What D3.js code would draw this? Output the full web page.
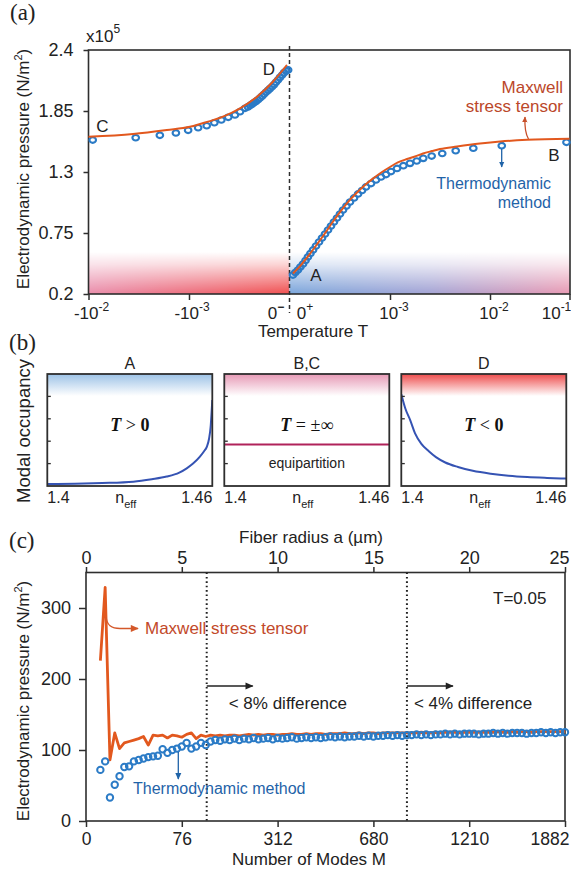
<!DOCTYPE html>
<html><head><meta charset="utf-8">
<script src="https://cdn.jsdelivr.net/npm/d3@7"></script>
<style>
body{margin:0;background:#fff;}
svg{display:block;}
</style></head><body>
<svg id="chart" width="571" height="871"></svg>
<script>
// ---------------- DATA ----------------
// Panel (a): T<0 side (|T| values), T>0 side (T values); pressure in 1e5 N/m^2
const aNegMaxT = [1e-2, 3.6e-3, 1.66e-3, 9.8e-4, 7.76e-4, 4.57e-4, 3.09e-4, 2.09e-4, 1.45e-4, 1.05e-4];
const aNegMaxP = [1.618, 1.643, 1.679, 1.708, 1.733, 1.799, 1.874, 1.979, 2.114, 2.265];
const aNegThT = [9.08e-3, 3.39e-3, 1.95e-3, 1.35e-3, 1.02e-3, 8.1e-4, 6.65e-4, 5.58e-4, 4.75e-4, 4.05e-4, 3.47e-4, 3.09e-4, 2.75e-4,
  2.57e-4, 2.45e-4, 2.34e-4, 2.24e-4, 2.14e-4, 2.04e-4, 1.95e-4, 1.86e-4, 1.78e-4, 1.70e-4, 1.62e-4, 1.55e-4, 1.48e-4, 1.41e-4, 1.35e-4, 1.29e-4, 1.23e-4, 1.17e-4, 1.12e-4, 1.07e-4, 1.02e-4];
const aNegThP = [1.588, 1.609, 1.631, 1.652, 1.676, 1.699, 1.717, 1.744, 1.769, 1.793, 1.814, 1.844, 1.874,
  1.887, 1.900, 1.912, 1.925, 1.936, 1.951, 1.968, 1.984, 2.001, 2.019, 2.036, 2.052, 2.069, 2.088, 2.109, 2.130, 2.153, 2.175, 2.196, 2.211, 2.220];
const aPosMaxT = [1.07e-4, 1.26e-4, 1.48e-4, 1.78e-4, 2.14e-4, 2.63e-4, 3.16e-4, 3.80e-4, 4.68e-4, 5.62e-4, 6.76e-4, 8.32e-4, 1.0e-3,
  1.20e-3, 1.48e-3, 1.78e-3, 2.14e-3, 2.63e-3, 3.16e-3, 4.68e-3, 7.94e-3, 1.34e-2, 2.94e-2, 0.1];
const aPosMaxP = [0.385, 0.452, 0.529, 0.624, 0.723, 0.840, 0.939, 1.029, 1.115, 1.183, 1.241, 1.300, 1.345,
  1.386, 1.417, 1.440, 1.467, 1.489, 1.507, 1.530, 1.557, 1.575, 1.590, 1.599];
const aPosThT = [1.07e-4, 1.13e-4, 1.20e-4, 1.27e-4, 1.35e-4, 1.43e-4, 1.51e-4, 1.60e-4, 1.70e-4, 1.82e-4, 1.95e-4, 2.09e-4, 2.24e-4,
  2.40e-4, 2.57e-4, 2.75e-4, 2.95e-4, 3.16e-4, 3.39e-4, 3.67e-4, 3.98e-4, 4.37e-4, 4.79e-4, 5.25e-4, 5.75e-4, 6.46e-4, 7.24e-4,
  8.13e-4, 9.12e-4, 1.023e-3, 1.175e-3, 1.36e-3, 1.585e-3, 1.85e-3, 2.15e-3, 2.61e-3, 3.33e-3, 4.54e-3, 6.81e-3, 1.406e-2, 9.16e-2];
const aPosThP = [0.371, 0.394, 0.416, 0.443, 0.470, 0.502, 0.534, 0.565, 0.597, 0.633, 0.669, 0.705, 0.741,
  0.777, 0.813, 0.849, 0.885, 0.921, 0.957, 0.993, 1.029, 1.066, 1.102, 1.133, 1.165, 1.196, 1.228,
  1.255, 1.277, 1.304, 1.332, 1.357, 1.378, 1.399, 1.423, 1.444, 1.467, 1.492, 1.514, 1.537, 1.568];
const aYTicks = [0.2, 0.75, 1.3, 1.85, 2.4];
const aYTickLabels = ["0.2", "0.75", "1.3", "1.85", "2.4"];
const aXTickNeg = [1e-2, 1e-3];
const aXTickPos = [1e-3, 1e-2, 1e-1];
const aXLabelBase = ["-10", "-10", "0", "0", "10", "10", "10"];
const aXLabelSup  = ["-2", "-3", "\u2212", "+", "-3", "-2", "-1"];

// Panel (b): modal occupancy vs n_eff
const bTitles = ["A", "B,C", "D"];
const bEquations = [["T", " > ", "0"], ["T", " = ", "\u00B1\u221E"], ["T", " < ", "0"]];
const bNeffA = [1.400, 1.410, 1.420, 1.4313, 1.438, 1.4434, 1.448, 1.4507, 1.453, 1.4555, 1.457, 1.458, 1.4588, 1.4594, 1.4597, 1.4600];
const bOccA  = [0.09, 0.10, 0.13, 0.19, 0.30, 0.42, 0.60, 0.79, 1.00, 1.31, 1.55, 1.75, 2.10, 2.65, 3.20, 3.84];
const bEquip = 1.85;
const bNeffD = [1.400, 1.4015, 1.4033, 1.4050, 1.4073, 1.4100, 1.4126, 1.4160, 1.4206, 1.4260, 1.4325, 1.4390, 1.4458, 1.4530, 1.4600];
const bOccD  = [4.10, 3.45, 2.92, 2.35, 1.88, 1.55, 1.29, 1.05, 0.85, 0.68, 0.55, 0.46, 0.40, 0.36, 0.33];
const bXTickLabels = ["1.4", "1.46"];

// Panel (c): pressure vs fiber radius (and number of modes)
const cRadius = [0.75,1,1.25,1.5,1.75,2,2.25,2.5,2.75,3,3.25,3.5,3.75,4,4.25,4.5,4.75,5,5.25,5.5,5.75,6,6.25,6.5,6.75,7,7.25,7.5,7.75,
  8,8.25,8.5,8.75,9,9.25,9.5,9.75,10,10.25,10.5,10.75,11,11.25,11.5,11.75,12,12.25,12.5,12.75,13,13.25,13.5,13.75,14,14.25,14.5,14.75,
  15,15.25,15.5,15.75,16,16.25,16.5,16.75,17,17.25,17.5,17.75,18,18.25,18.5,18.75,19,19.25,19.5,19.75,20,20.25,20.5,20.75,
  21,21.25,21.5,21.75,22,22.25,22.5,22.75,23,23.25,23.5,23.75,24,24.25,24.5,24.75,25];
const cThermo = [72,
  84,33,51,63, 76,77,84,86, 88,90,91,92, 101,96,100,102, 105,110,102,105, 110,107,112,114,
  113,115,114,116, 114,116,115,117, 115,116,117,115, 117,116,117,118, 116,117,118,117, 118,117,118,119,
  118,119,118,119, 119,120,119,120, 119,120,120,121, 120,121,120,121, 121,122,121,122, 121,122,122,123,
  122,123,122,123, 123,123,122,123, 123,124,123,124, 123,124,124,124, 123,124,124,125, 124,125,124,125, 125];
const cMaxwell = [226,
  329,86,124,102, 110,112,114,116, 119,107,121,120, 121,117,121,120, 118,122,124,116, 121,119,121,120,
  121,120,121,121, 120,121,122,121, 122,121,122,122, 121,122,122,123, 122,122,123,122, 123,123,122,123,
  123,123,124,123, 123,124,123,124, 124,123,124,124, 124,124,124,124, 124,124,125,124, 124,125,124,125,
  125,125,124,125, 125,125,125,125, 125,125,126,125, 125,126,125,126, 126,125,126,126, 126,126,126,126, 126];
const cRadiusTicks = [0, 5, 10, 15, 20, 25];
const cModeTicks = [0, 76, 312, 680, 1210, 1882];
const cYTicks = [0, 100, 200, 300];
const cBoundaryR = [6.3, 16.75];
const cBoundaryText = ["< 8% difference", "< 4% difference"];

// ---------------- DRAWING ----------------
const svg = d3.select("#chart");
const defs = svg.append("defs");
const SANS = '"Liberation Sans", Arial, Helvetica, sans-serif';
const SERIF = '"Liberation Serif", "Times New Roman", serif';
const ORANGE = "#e2581e", BLUE = "#2b7bc6", DARK = "#2e2e2e";
const ANN_OR = "#bb472a", ANN_BL = "#1f63a8";

function marker(id, color, w, h) {
  defs.append("marker").attr("id", id).attr("viewBox", "0 0 10 10").attr("refX", 9).attr("refY", 5)
    .attr("markerUnits", "userSpaceOnUse").attr("markerWidth", w).attr("markerHeight", h).attr("orient", "auto")
    .append("path").attr("d", "M0,0.5L10,5L0,9.5Z").attr("fill", color);
}
marker("mOr", "#c8502a", 6, 6);
marker("mBl", ANN_BL, 6, 6);
marker("mOr2", "#d4582a", 9, 8);
marker("mBl2", ANN_BL, 7, 7);
marker("mBk", "#222", 10, 8);

function grad(id, stops, vertical) {
  const g = defs.append("linearGradient").attr("id", id)
    .attr("x1", 0).attr("y1", 0).attr("x2", vertical ? 0 : 1).attr("y2", vertical ? 1 : 0);
  stops.forEach(s => g.append("stop").attr("offset", s[0]).attr("stop-color", s[1]).attr("stop-opacity", s[2] === undefined ? 1 : s[2]));
}
function styleAxis(g, fs) {
  g.selectAll("path.domain").remove();
  g.selectAll(".tick line").attr("stroke", DARK).attr("stroke-width", 1.5);
  g.selectAll(".tick text").attr("font-family", SANS).attr("font-size", fs).attr("fill", "#222");
}

// ===== Panel (a) =====
const xNeg = d3.scaleLog().domain([1e-2, 1e-3, 1e-4]).range([88.5, 189, 289]);
const xPos = d3.scaleLog().domain([1e-4, 1e-3, 1e-2, 1e-1]).range([290, 390, 490, 569.5]);
const yA = d3.scaleLinear().domain([0.2, 2.4]).range([294, 50]);
const aL = 88.5, aR = 570, aT = 50, aB = 294, aZero = 289.5;

grad("gNeg", [[0, "#e98dab"], [1, "#f04f4f"]]);
grad("gPos", [[0, "#7aa5db"], [0.5, "#a3a3d4"], [1, "#e898b2"]]);
grad("gFade", [[0, "#fff", 0], [0.3, "#fff", 0.25], [1, "#fff", 1]], true);
const maskA = defs.append("mask").attr("id", "maskA").attr("maskUnits", "userSpaceOnUse")
  .attr("x", 0).attr("y", 0).attr("width", 571).attr("height", 871);
maskA.append("rect").attr("x", aL).attr("y", 252).attr("width", aR - aL).attr("height", aB - 252).attr("fill", "url(#gFade)");
const gA = svg.append("g");
const bands = gA.append("g").attr("mask", "url(#maskA)");
bands.append("rect").attr("x", aL).attr("y", 252).attr("width", aZero - aL).attr("height", aB - 252).attr("fill", "url(#gNeg)");
bands.append("rect").attr("x", aZero).attr("y", 252).attr("width", aR - aZero).attr("height", aB - 252).attr("fill", "url(#gPos)");

gA.append("rect").attr("x", aL).attr("y", aT).attr("width", aR - aL).attr("height", aB - aT)
  .attr("fill", "none").attr("stroke", DARK).attr("stroke-width", 1.6);

const axAy = gA.append("g").attr("transform", `translate(${aL},0)`)
  .call(d3.axisLeft(yA).tickValues(aYTicks).tickSize(5).tickPadding(10).tickSizeOuter(0).tickFormat((d, i) => aYTickLabels[i]));
styleAxis(axAy, 18);
const axAxn = gA.append("g").attr("transform", `translate(0,${aB})`)
  .call(d3.axisBottom(xNeg).tickValues(aXTickNeg).tickSize(6).tickSizeOuter(0).tickFormat(""));
styleAxis(axAxn, 17);
const axAxp = gA.append("g").attr("transform", `translate(0,${aB})`)
  .call(d3.axisBottom(xPos).tickValues(aXTickPos).tickSize(6).tickSizeOuter(0).tickFormat(""));
styleAxis(axAxp, 17);

// x tick labels with superscripts
const aLabelX = [xNeg(1e-2) + 3, xNeg(1e-3) + 3, xNeg(1e-4) - 13, xPos(1e-4) + 15, xPos(1e-3) + 4, xPos(1e-2) + 4, xPos(1e-1) - 13];
aXLabelBase.forEach((b, i) => {
  const t = gA.append("text").attr("x", aLabelX[i]).attr("y", 319).attr("text-anchor", "middle")
    .attr("font-family", SANS).attr("font-size", 17).attr("fill", "#222");
  t.append("tspan").text(b);
  t.append("tspan").attr("dy", -8).attr("font-size", 12).attr("font-weight", i === 2 ? "bold" : "normal").text(aXLabelSup[i]);
});

// dashed zero line
gA.append("line").attr("x1", aZero).attr("x2", aZero).attr("y1", 46).attr("y2", 313)
  .attr("stroke", DARK).attr("stroke-width", 1.5).attr("stroke-dasharray", "4,3");

// thermodynamic circles
const aPtsNeg = aNegThT.map((t, i) => [xNeg(t), yA(aNegThP[i])]);
const aPtsPos = aPosThT.map((t, i) => [xPos(t), yA(aPosThP[i])]);
gA.append("g").selectAll("ellipse").data(aPtsNeg.concat(aPtsPos)).join("ellipse")
  .attr("cx", d => d[0]).attr("cy", d => d[1]).attr("rx", 3.3).attr("ry", 2.8)
  .attr("fill", "none").attr("stroke", BLUE).attr("stroke-width", 2.1);
// Maxwell lines
const lineA = d3.line().curve(d3.curveMonotoneX);
gA.append("path").attr("d", lineA(aNegMaxT.map((t, i) => [xNeg(t), yA(aNegMaxP[i])])))
  .attr("fill", "none").attr("stroke", ORANGE).attr("stroke-width", 2);
gA.append("path").attr("d", lineA(aPosMaxT.map((t, i) => [xPos(t), yA(aPosMaxP[i])])))
  .attr("fill", "none").attr("stroke", ORANGE).attr("stroke-width", 2);

// text annotations (a)
function txt(g, x, y, s, opt = {}) {
  return g.append("text").attr("x", x).attr("y", y).attr("text-anchor", opt.anchor || "start")
    .attr("font-family", opt.family || SANS).attr("font-size", opt.size || 17).attr("fill", opt.fill || "#222").text(s);
}
txt(gA, 10, 20, "(a)", { family: SERIF, size: 23 });
const x10 = txt(gA, 86, 42, "x10", { size: 17 });
x10.append("tspan").attr("dy", -9).attr("font-size", 12).text("5");
txt(gA, 102.5, 132, "C", { anchor: "middle" });
txt(gA, 269, 75, "D", { anchor: "middle" });
txt(gA, 554, 161, "B", { anchor: "middle" });
txt(gA, 316, 281, "A", { anchor: "middle" });
txt(gA, 563, 92.5, "Maxwell", { anchor: "end", fill: ANN_OR });
txt(gA, 563, 112, "stress tensor", { anchor: "end", fill: ANN_OR });
gA.append("path").attr("d", "M528.5,139 C525.5,134 524.5,128 525,117").attr("fill", "none")
  .attr("stroke", "#c8502a").attr("stroke-width", 1.3).attr("marker-end", "url(#mOr)");
txt(gA, 551, 189, "Thermodynamic", { anchor: "end", fill: ANN_BL, size: 16 });
txt(gA, 551, 208, "method", { anchor: "end", fill: ANN_BL, size: 16 });
gA.append("line").attr("x1", 501.7).attr("x2", 501.7).attr("y1", 149).attr("y2", 167)
  .attr("stroke", ANN_BL).attr("stroke-width", 1.3).attr("marker-end", "url(#mBl)");
txt(gA, 313, 337, "Temperature T", { anchor: "middle" });
txt(gA, 0, 0, "Electrodynamic pressure (N/m", { anchor: "middle" })
  .attr("transform", "translate(29,169) rotate(-90)")
  .call(t => { t.append("tspan").attr("dy", -7).attr("font-size", 11).text("2"); t.append("tspan").attr("dy", 7).text(")"); });

// ===== Panel (b) =====
const gB = svg.append("g");
const bBoxX = [47.3, 224.3, 401.3], bW = 165, bT = 374, bBot = 486;
const bTopColors = ["#9cc2e6", "#e699b5", "#ee4c4c"];
txt(gB, 9, 350, "(b)", { family: SERIF, size: 23 });
txt(gB, 0, 0, "Modal occupancy", { anchor: "middle", size: 18.5 }).attr("transform", "translate(30,431) rotate(-90)");
bBoxX.forEach((x0, k) => {
  const xB = d3.scaleLinear().domain([1.4, 1.46]).range([x0, x0 + bW]);
  const yB = d3.scaleLinear().domain([0, 5]).range([bBot, bT]);
  grad("gTop" + k, [[0, bTopColors[k], 1], [1, bTopColors[k], 0]], true);
  const g = gB.append("g");
  g.append("rect").attr("x", x0).attr("y", bT).attr("width", bW).attr("height", 22).attr("fill", `url(#gTop${k})`);
  const cp = defs.append("clipPath").attr("id", "clipB" + k);
  cp.append("rect").attr("x", x0).attr("y", bT).attr("width", bW).attr("height", bBot - bT);
  const line = d3.line().curve(d3.curveMonotoneX).x(d => xB(d[0])).y(d => yB(d[1]));
  if (k === 0) {
    g.append("path").attr("clip-path", "url(#clipB0)").attr("d", line(bNeffA.map((n, i) => [n, bOccA[i]])))
      .attr("fill", "none").attr("stroke", "#3553b3").attr("stroke-width", 2);
  } else if (k === 1) {
    g.append("line").attr("x1", xB(1.4)).attr("x2", xB(1.46)).attr("y1", yB(bEquip)).attr("y2", yB(bEquip))
      .attr("stroke", "#b0225a").attr("stroke-width", 2);
    txt(g, xB(1.43), 468, "equipartition", { anchor: "middle", size: 14 });
  } else {
    g.append("path").attr("clip-path", "url(#clipB2)").attr("d", line(bNeffD.map((n, i) => [n, bOccD[i]])))
      .attr("fill", "none").attr("stroke", "#3553b3").attr("stroke-width", 2);
  }
  g.append("rect").attr("x", x0).attr("y", bT).attr("width", bW).attr("height", bBot - bT)
    .attr("fill", "none").attr("stroke", DARK).attr("stroke-width", 1.8);
  [1, 2, 3, 4].forEach(v => g.append("line").attr("x1", x0).attr("x2", x0 + 3.5).attr("y1", yB(v)).attr("y2", yB(v))
    .attr("stroke", DARK).attr("stroke-width", 1.3));
  txt(g, xB(1.43), 368.5, bTitles[k], { anchor: "middle", size: 16 });
  txt(g, x0, 503, bXTickLabels[0], { size: 16 });
  txt(g, x0 + bW, 503, bXTickLabels[1], { anchor: "end", size: 16 });
  const ne = txt(g, xB(1.43) - 4, 503, "n", { anchor: "middle", size: 16 });
  ne.append("tspan").attr("dy", 5).attr("font-size", 11).text("eff");
  const eq = g.append("text").attr("x", xB(1.43)).attr("y", 431).attr("text-anchor", "middle")
    .attr("font-family", SERIF).attr("font-size", 18).attr("fill", "#111");
  eq.append("tspan").attr("font-style", "italic").attr("font-weight", "bold").text(bEquations[k][0]);
  eq.append("tspan").attr("xml:space", "preserve").text(bEquations[k][1]);
  eq.append("tspan").attr("font-weight", k === 1 ? "normal" : "bold").text(bEquations[k][2]);
});

// ===== Panel (c) =====
const gC = svg.append("g");
const cL = 86, cR = 565, cT = 572.5, cB = 821;
const xR = d3.scaleLinear().domain([0, 25]).range([cL, cR]);
const xM = d3.scaleLinear().domain(cModeTicks).range(cRadiusTicks.map(xR));
const yC = d3.scaleLinear().domain([0, 350]).range([cB, cT]);
txt(gC, 9, 548, "(c)", { family: SERIF, size: 23 });
gC.append("rect").attr("x", cL).attr("y", cT).attr("width", cR - cL).attr("height", cB - cT)
  .attr("fill", "none").attr("stroke", DARK).attr("stroke-width", 1.6);
const axCt = gC.append("g").attr("transform", `translate(0,${cT})`)
  .call(d3.axisTop(xR).tickValues(cRadiusTicks).tickSize(5.5).tickPadding(3).tickSizeOuter(0));
styleAxis(axCt, 18);
const axCb = gC.append("g").attr("transform", `translate(0,${cB})`)
  .call(d3.axisBottom(xM).tickValues(cModeTicks).tickSize(6).tickPadding(6).tickSizeOuter(0).tickFormat(d3.format("d")));
styleAxis(axCb, 17.5);
// keep the right-most labels inside the figure, as in the original
axCt.selectAll(".tick:last-of-type text").attr("text-anchor", "end").attr("x", 4);
axCb.selectAll(".tick:last-of-type text").attr("text-anchor", "end").attr("x", 4);
const axCl = gC.append("g").attr("transform", `translate(${cL},0)`)
  .call(d3.axisLeft(yC).tickValues(cYTicks).tickSize(7).tickPadding(8).tickSizeOuter(0));
styleAxis(axCl, 18);
txt(gC, 311, 543, "Fiber radius a (\u00B5m)", { anchor: "middle" });
txt(gC, 309, 865, "Number of Modes M", { anchor: "middle" });
txt(gC, 0, 0, "Electrodynamic pressure (N/m", { anchor: "middle" })
  .attr("transform", "translate(29,701) rotate(-90)")
  .call(t => { t.append("tspan").attr("dy", -7).attr("font-size", 11).text("2"); t.append("tspan").attr("dy", 7).text(")"); });

// boundaries
cBoundaryR.forEach((r, i) => {
  gC.append("line").attr("x1", xR(r)).attr("x2", xR(r)).attr("y1", cT).attr("y2", cB)
    .attr("stroke", "#222").attr("stroke-width", 2).attr("stroke-dasharray", "1.6,2.8");
  gC.append("line").attr("x1", xR(r)).attr("x2", xR(r) + 46).attr("y1", 686).attr("y2", 686)
    .attr("stroke", "#222").attr("stroke-width", 1.3).attr("marker-end", "url(#mBk)");
  txt(gC, xR(r) + (i === 0 ? 22 : 7), 709, cBoundaryText[i]);
});
txt(gC, 493, 604, "T=0.05");

// data
gC.append("path").attr("d", d3.line()(cRadius.map((r, i) => [xR(r), yC(cMaxwell[i])])))
  .attr("fill", "none").attr("stroke", ORANGE).attr("stroke-width", 2.8).attr("stroke-linejoin", "round");
gC.append("g").selectAll("circle").data(cRadius).join("circle")
  .attr("cx", d => xR(d)).attr("cy", (d, i) => yC(cThermo[i])).attr("r", 3.2)
  .attr("fill", "none").attr("stroke", BLUE).attr("stroke-width", 2);

// annotations (c)
txt(gC, 145, 634, "Maxwell stress tensor", { fill: "#c2492a" });
gC.append("path").attr("d", "M106,617 C107,626 112,628.5 120,628.5 L138,628.5").attr("fill", "none")
  .attr("stroke", "#d4582a").attr("stroke-width", 1.5).attr("marker-end", "url(#mOr2)");
txt(gC, 133, 794, "Thermodynamic method", { fill: ANN_BL, size: 16 });
gC.append("line").attr("x1", 178.3).attr("x2", 178.3).attr("y1", 752).attr("y2", 779)
  .attr("stroke", ANN_BL).attr("stroke-width", 1.3).attr("marker-end", "url(#mBl2)");
</script>
</body></html>
